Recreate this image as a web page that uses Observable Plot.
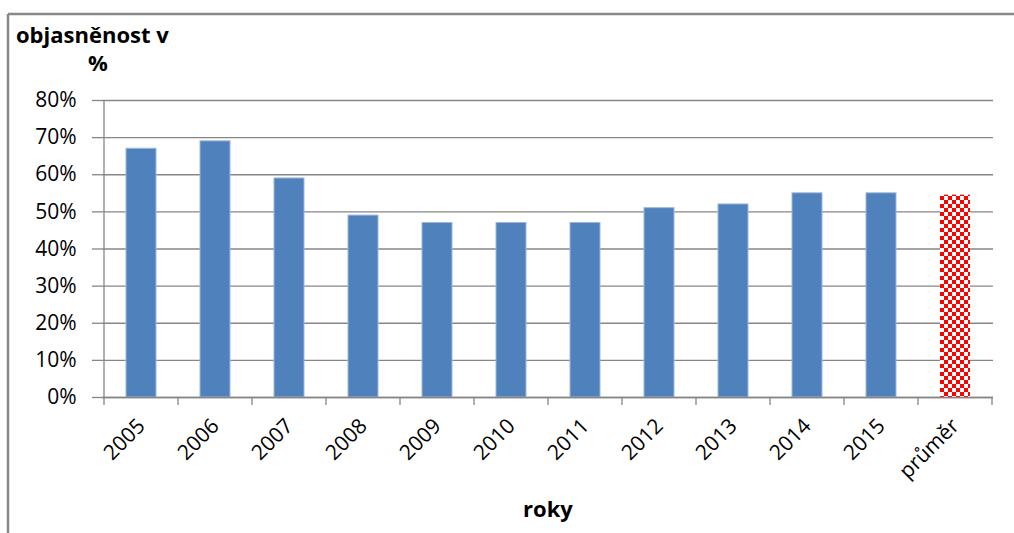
<!DOCTYPE html>
<html><head><meta charset="utf-8">
<script src="https://cdn.jsdelivr.net/npm/d3@7"></script>
<script src="https://cdn.jsdelivr.net/npm/@observablehq/plot@0.6"></script>
<style>body{margin:0;background:#fff} svg{display:block}</style>
</head><body><div id="chart"></div>
<script>
const categories = ["2005","2006","2007","2008","2009","2010","2011","2012","2013","2014","2015","průměr"];
const values = [0.67,0.69,0.59,0.49,0.47,0.47,0.47,0.51,0.52,0.55,0.55,0.545];
const yTicks = [0,0.1,0.2,0.3,0.4,0.5,0.6,0.7,0.8];
const yTickLabels = ["0%","10%","20%","30%","40%","50%","60%","70%","80%"];
const yLabelLines = ["objasněnost v","%"];
const xLabel = "roky";
const averageCategory = "průměr";

const data = categories.map((c,i)=>({category:c, value:values[i], average:c===averageCategory}));
const gridColor = "#868686";
const font = "'Open Sans', sans-serif";

const chart = Plot.plot({
  width:1014, height:533,
  marginLeft:102, marginRight:21, marginTop:100, marginBottom:136,
  style:{fontFamily:font, fontSize:"21px", color:"#000", background:"#fff", overflow:"visible"},
  x:{domain:categories, paddingInner:0.6, paddingOuter:0.3, label:null},
  y:{domain:[0,0.8], label:null},
  marks:[
    Plot.gridY(yTicks,{stroke:gridColor, strokeOpacity:1, strokeWidth:1.3}),
    Plot.axisY(yTicks,{tickFormat:d=>yTickLabels[yTicks.indexOf(d)], tickSize:10, tickPadding:16, stroke:gridColor, strokeWidth:1.3, fontSize:21}),
    Plot.barY(data.filter(d=>!d.average),{x:"category", y:"value", fill:"#4F81BD", stroke:"#9db7da", strokeWidth:1}),
    Plot.barY(data.filter(d=>d.average),{x:"category", y:"value", fill:"url(#checker)"}),
    Plot.axisX({tickRotate:-45, tickSize:0, tickPadding:25, fontSize:21}),
    Plot.ruleY([0],{stroke:gridColor, strokeWidth:1.3})
  ]
});

const svg = d3.select(chart);
// checker pattern
const defs = svg.insert("defs",":first-child");
const pat = defs.append("pattern").attr("id","checker").attr("patternUnits","userSpaceOnUse")
  .attr("width",8).attr("height",8);
pat.append("rect").attr("width",8).attr("height",8).attr("fill","#fff");
pat.append("rect").attr("width",4).attr("height",4).attr("fill","#ff0000");
pat.append("rect").attr("x",4).attr("y",4).attr("width",4).attr("height",4).attr("fill","#ff0000");

// axis lines and category boundary ticks from the library's scales
const xs = chart.scale("x"), ys = chart.scale("y");
const y0 = ys.apply(0), yTop = ys.apply(0.8);
const gap = xs.step - xs.bandwidth;
const bounds = categories.map(c => xs.apply(c) - gap/2);
bounds.push(xs.apply(categories[categories.length-1]) + xs.bandwidth + gap/2);
const g = svg.append("g").attr("stroke",gridColor).attr("stroke-width",1.3);
g.append("line").attr("x1",bounds[0]).attr("x2",bounds[0]).attr("y1",yTop).attr("y2",y0);
bounds.forEach(b => g.append("line").attr("x1",b).attr("x2",b).attr("y1",y0).attr("y2",y0+8));

// outer frame (top and left edges)
const fr = svg.append("g").attr("stroke","#888").attr("stroke-width",2.5);
fr.append("line").attr("x1",8).attr("x2",1014).attr("y1",14).attr("y2",14);
fr.append("line").attr("x1",8).attr("x2",8).attr("y1",14).attr("y2",533);

// y label (two lines)
const t = svg.append("text").attr("font-family",font).attr("font-weight","bold").attr("font-size",22).attr("fill","#000");
t.append("tspan").attr("x",16).attr("y",43).attr("text-anchor","start").text(yLabelLines[0]);
t.append("tspan").attr("x",98).attr("y",71).attr("text-anchor","middle").text(yLabelLines[1]);

// x label
svg.append("text").attr("font-family",font).attr("font-weight","bold").attr("font-size",22)
  .attr("x",(bounds[0]+bounds[bounds.length-1])/2).attr("y",517).attr("text-anchor","middle").text(xLabel);

document.getElementById("chart").appendChild(chart);
</script>
</body></html>
